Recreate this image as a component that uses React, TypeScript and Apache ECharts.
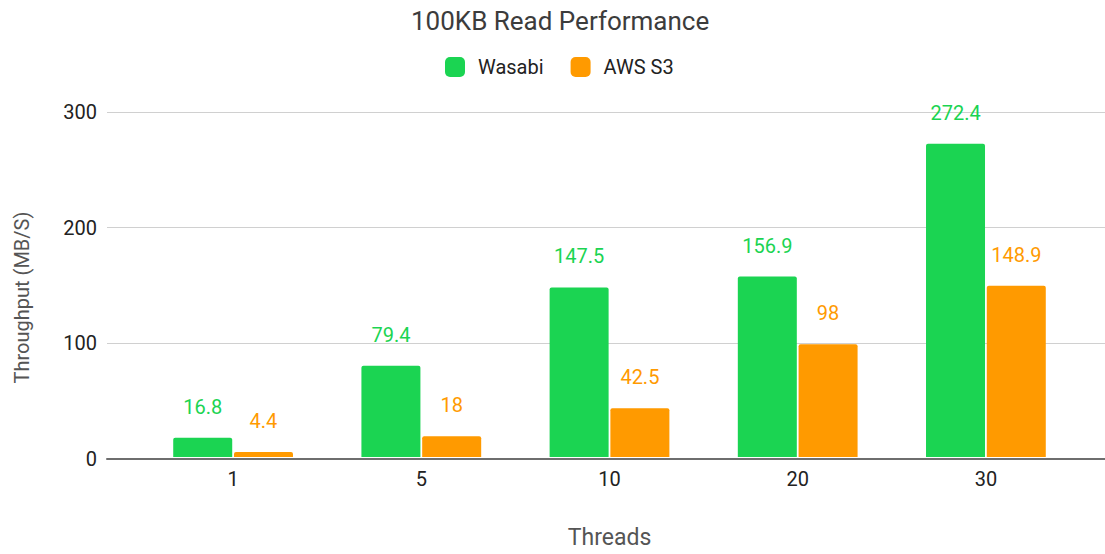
import React, { useEffect, useRef } from "react";
import * as echarts from "echarts";

const categories = ["1", "5", "10", "20", "30"];
const wasabi = [16.8, 79.4, 147.5, 156.9, 272.4];
const awsS3 = [4.4, 18, 42.5, 98, 148.9];
const seriesNames = ["Wasabi", "AWS S3"];
const titleText = "100KB Read Performance";
const xName = "Threads";
const yName = "Throughput (MB/S)";

const GREEN = "#1bd452";
const ORANGE = "#ff9a00";
const FONT = "Roboto";

export default function App() {
  const ref = useRef<HTMLDivElement>(null);
  useEffect(() => {
    if (!ref.current) return;
    const chart = echarts.init(ref.current, null, { renderer: "svg" });
    const labelStyle = (color: string) => ({
      show: true,
      position: "top" as const,
      distance: 21,
      color,
      fontSize: 20,
      fontFamily: FONT,
    });
    chart.setOption({
      animation: false,
      backgroundColor: "#ffffff",
      textStyle: { fontFamily: FONT },
      title: {
        text: titleText,
        left: 406,
        top: 3,
        textStyle: { fontSize: 26, fontWeight: "normal", color: "#3c3c3c", fontFamily: FONT },
      },
      legend: {
        data: seriesNames,
        top: 52,
        left: 440,
        icon: "roundRect",
        itemWidth: 20,
        itemHeight: 20,
        itemGap: 27,
        textStyle: { fontSize: 20, color: "#222", fontFamily: FONT, padding: [0, 0, 0, 8] },
      },
      grid: [
        { left: 107, right: 0, top: 112, bottom: 95 },
        { left: 139, right: 25, top: 112, bottom: 95 },
      ],
      xAxis: [
        {
          type: "category",
          gridIndex: 0,
          data: [""],
          axisLine: { show: true, lineStyle: { color: "#6e6e6e", width: 2 } },
          axisTick: { show: false },
          axisLabel: { show: false },
        },
        {
          type: "category",
          gridIndex: 1,
          data: categories,
          axisLine: { show: false },
          axisTick: { show: false },
          axisLabel: { color: "#222", fontSize: 20, margin: 12, fontFamily: FONT },
          name: xName,
          nameLocation: "middle",
          nameGap: 69,
          nameTextStyle: { fontSize: 23, color: "#555", fontFamily: FONT },
        },
      ],
      yAxis: [
        {
          type: "value",
          gridIndex: 0,
          min: 0,
          max: 300,
          interval: 100,
          axisLine: { show: false },
          axisTick: { show: false },
          axisLabel: { color: "#222", fontSize: 20, margin: 10, fontFamily: FONT },
          splitLine: { lineStyle: { color: "#d0d0d0", width: 1 } },
          name: yName,
          nameLocation: "middle",
          nameGap: 75,
          nameTextStyle: { fontSize: 20, color: "#555", fontFamily: FONT, padding: [0, 24, 0, 0] },
        },
        {
          type: "value",
          gridIndex: 1,
          min: 0,
          max: 300,
          interval: 100,
          show: false,
          splitLine: { show: false },
        },
      ],
      series: [
        {
          name: seriesNames[0],
          type: "bar",
          xAxisIndex: 1,
          yAxisIndex: 1,
          data: wasabi,
          barWidth: 59,
          barGap: "3%",
          itemStyle: { color: GREEN, borderRadius: [2, 2, 0, 0] },
          label: labelStyle(GREEN),
        },
        {
          name: seriesNames[1],
          type: "bar",
          xAxisIndex: 1,
          yAxisIndex: 1,
          data: awsS3,
          barWidth: 59,
          barGap: "3%",
          itemStyle: { color: ORANGE, borderRadius: [2, 2, 0, 0] },
          label: labelStyle(ORANGE),
        },
      ],
    });
    return () => chart.dispose();
  }, []);
  return (
    <div
      ref={ref}
      style={{ position: "absolute", left: 0, top: 0, width: 1105, height: 554 }}
    />
  );
}
